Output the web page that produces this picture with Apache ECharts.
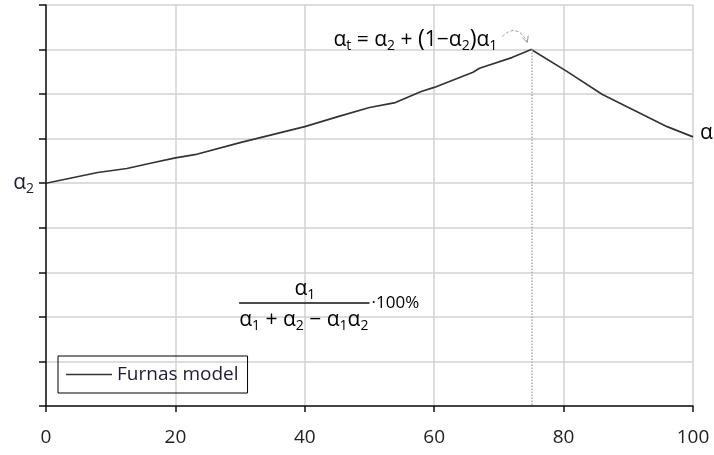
<!DOCTYPE html>
<html>
<head>
<meta charset="utf-8">
<script src="https://cdn.jsdelivr.net/npm/echarts@6/dist/echarts.min.js"></script>
<style>
html, body { margin: 0; padding: 0; background: #fff; }
#chart { width: 714px; height: 455px; }
</style>
</head>
<body>
<div id="chart"></div>
<script>
// curve (x in %, y in grid units)
const xValues = [0, 8, 12.5, 16.5, 20, 23, 30, 35, 40, 45, 50, 54, 58, 60, 66, 67, 72, 75, 80.5, 86, 96, 100];
const yValues = [5, 5.24, 5.33, 5.46, 5.57, 5.64, 5.91, 6.09, 6.27, 6.49, 6.7, 6.81, 7.06, 7.15, 7.49, 7.58, 7.82, 8, 7.51, 6.99, 6.27, 6.04];
const xTickStep = 20;
const alpha2Level = 5;
const peak = [75, 8];
const seriesName = "Furnas model";

const FONT = "Open Sans";
const TXT = "#1c1c34";

const chart = echarts.init(document.getElementById("chart"));

// rich styles for the little math bits
const mathRich = {
  m: { fontFamily: FONT, fontSize: 21, color: TXT, lineHeight: 26, verticalAlign: "middle" },
  s: { fontFamily: FONT, fontSize: 14, color: TXT, lineHeight: 15, verticalAlign: "bottom" },
  b: { fontFamily: FONT, fontSize: 23, color: "#3b4fa0", lineHeight: 26, verticalAlign: "middle" },
  p: { fontFamily: FONT, fontSize: 17, color: TXT, lineHeight: 26, verticalAlign: "middle" },
};

const options = {
  animation: false,
  grid: { left: 46, right: 21, top: 5, bottom: 49 },
  legend: {
    left: 58,
    top: 356,
    borderColor: "#000",
    borderWidth: 1,
    padding: [9, 9, 9, 8],
    itemWidth: 46,
    itemHeight: 1.6,
    icon: "rect",
    itemStyle: { color: "#333" },
    textStyle: { fontFamily: FONT, fontSize: 19, color: TXT, lineHeight: 18 },
    data: [seriesName],
  },
  xAxis: {
    type: "value",
    min: 0,
    max: 100,
    interval: xTickStep,
    axisLine: { lineStyle: { color: "#111", width: 1.5 } },
    axisTick: { show: true, length: 6, lineStyle: { color: "#111", width: 1.5 } },
    axisLabel: { fontFamily: FONT, fontSize: 19, color: "#222", margin: 22 },
    splitLine: { show: true, lineStyle: { color: "#d2d2d2", width: 1.5 } },
  },
  yAxis: {
    type: "value",
    min: 0,
    max: 9,
    interval: 1,
    axisLine: { show: true, lineStyle: { color: "#111", width: 1.5 } },
    axisTick: { show: true, length: 7, lineStyle: { color: "#111", width: 1.5 } },
    axisLabel: {
      margin: 12,
      formatter: (v) => (v === alpha2Level ? "{m|α}{s|2}" : ""),
      rich: mathRich,
    },
    splitLine: { show: true, lineStyle: { color: "#d2d2d2", width: 1.5 } },
  },
  series: [
    {
      name: seriesName,
      type: "line",
      symbol: "none",
      data: xValues.map((x, i) => [x, yValues[i]]),
      lineStyle: { color: "#333", width: 1.7 },
      itemStyle: { color: "#333" },
      markLine: {
        silent: true,
        symbol: "none",
        label: { show: false },
        lineStyle: { type: "dotted", color: "#aaa", width: 1.5 },
        data: [[{ coord: [peak[0], peak[1]] }, { coord: [peak[0], 0] }]],
      },
    },
  ],
};

chart.setOption(options);

// annotations, placed from data coords
const px = (x, y) => chart.convertToPixel({ gridIndex: 0 }, [x, y]);
const pk = px(peak[0], peak[1]);
const end = px(100, yValues[yValues.length - 1]);
const fracL = px(30, 2.31);
const fracR = px(50, 2.31);

chart.setOption({
  graphic: [
    {
      type: "text",
      x: pk[0] - 34,
      y: pk[1] - 10,
      style: {
        text: "{m|α}{s|t}{m| = α}{s|2}{m| + }{b|(}{m|1−α}{s|2}{b|)}{m|α}{s|1}",
        rich: mathRich,
        align: "right",
        verticalAlign: "middle",
      },
    },
    {
      type: "bezierCurve",
      shape: { x1: pk[0] - 29, y1: pk[1] - 13, cpx1: pk[0] - 15, cpy1: pk[1] - 27, x2: pk[0] - 4, y2: pk[1] - 8 },
      style: { stroke: "#999", lineWidth: 1, lineDash: [3, 2], fill: null },
    },
    {
      type: "polyline",
      shape: { points: [[pk[0] - 9, pk[1] - 12], [pk[0] - 4, pk[1] - 7], [pk[0] - 3, pk[1] - 14]] },
      style: { stroke: "#999", lineWidth: 1, fill: null },
    },
    {
      type: "text",
      x: end[0] + 7,
      y: end[1] - 4,
      style: { text: "{m|α}{s|1}", rich: mathRich, align: "left", verticalAlign: "middle" },
    },
    {
      type: "line",
      shape: { x1: fracL[0] - 1, y1: fracL[1], x2: fracR[0], y2: fracR[1] },
      style: { stroke: "#111", lineWidth: 1.5 },
    },
    {
      type: "text",
      x: (fracL[0] + fracR[0]) / 2,
      y: fracL[1] - 14,
      style: { text: "{m|α}{s|1}", rich: mathRich, align: "center", verticalAlign: "middle" },
    },
    {
      type: "text",
      x: (fracL[0] + fracR[0]) / 2 - 1,
      y: fracL[1] + 17,
      style: {
        text: "{m|α}{s|1}{m| + α}{s|2}{m| − α}{s|1}{m|α}{s|2}",
        rich: mathRich,
        align: "center",
        verticalAlign: "middle",
      },
    },
    {
      type: "text",
      x: fracR[0] + 2,
      y: fracR[1],
      style: { text: "{p|·100%}", rich: mathRich, align: "left", verticalAlign: "middle" },
    },
  ],
});
</script>
</body>
</html>
